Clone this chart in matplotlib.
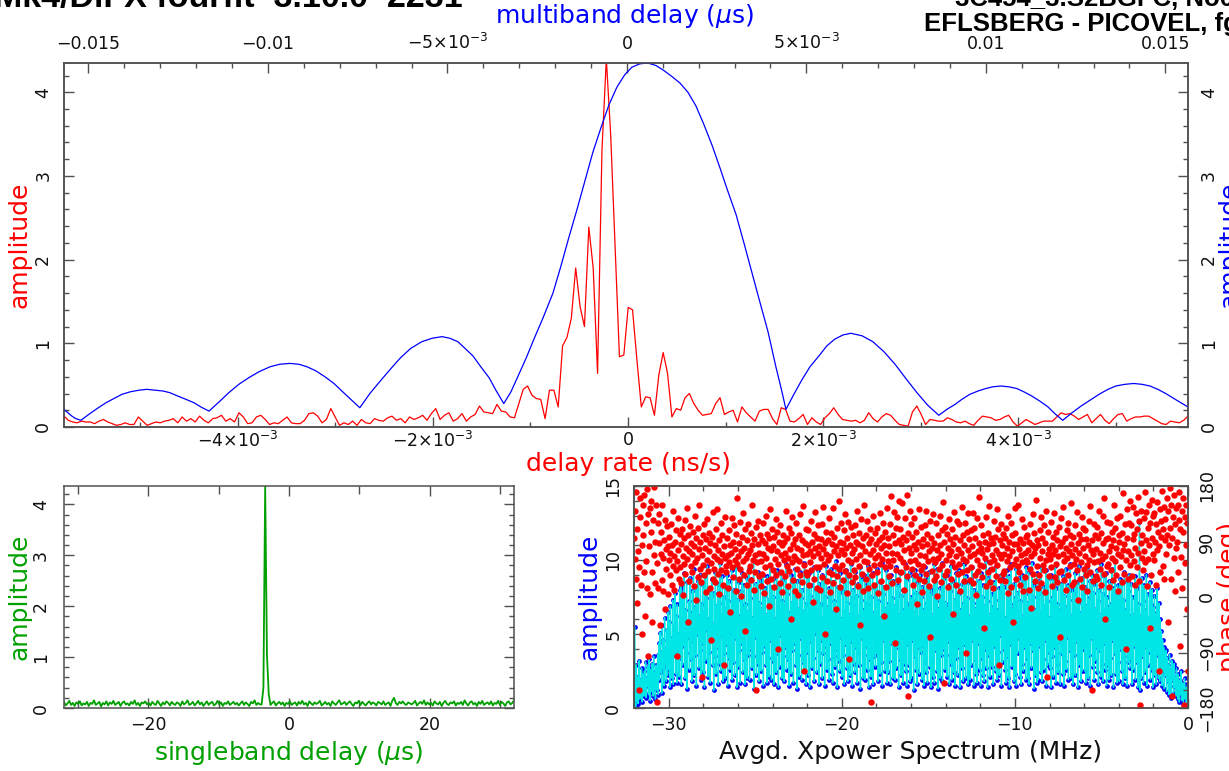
import numpy as np
import matplotlib
matplotlib.use('Agg')
import matplotlib.pyplot as plt
from matplotlib.ticker import MultipleLocator, FixedLocator, FixedFormatter

plt.rcParams['font.family'] = ['DejaVu Sans']
plt.rcParams['mathtext.fontset'] = 'dejavusans'

# delay rate function (red, top panel), ns/s grid
rate_lo, rate_hi = -5.78e-3, 5.74e-3
rate_amp = [
    0.13, 0.08, 0.06, 0.05, 0.07, 0.06, 0.06, 0.04, 0.07, 0.09,
    0.06, 0.04, 0.02, 0.03, 0.05, 0.03, 0.03, 0.12, 0.07, 0.02,
    0.04, 0.06, 0.05, 0.07, 0.08, 0.10, 0.05, 0.12, 0.07, 0.10,
    0.06, 0.13, 0.08, 0.05, 0.10, 0.11, 0.14, 0.07, 0.10, 0.06,
    0.17, 0.12, 0.04, 0.05, 0.12, 0.14, 0.09, 0.03, 0.05, 0.04,
    0.08, 0.12, 0.05, 0.04, 0.04, 0.08, 0.16, 0.17, 0.13, 0.05,
    0.09, 0.22, 0.12, 0.02, 0.05, 0.03, 0.07, 0.02, 0.09, 0.05,
    0.04, 0.10, 0.08, 0.07, 0.11, 0.13, 0.08, 0.10, 0.05, 0.12,
    0.09, 0.11, 0.14, 0.08, 0.16, 0.22, 0.09, 0.14, 0.17, 0.07,
    0.10, 0.16, 0.07, 0.12, 0.15, 0.25, 0.18, 0.17, 0.16, 0.27,
    0.19, 0.18, 0.12, 0.11, 0.28, 0.45, 0.49, 0.38, 0.34, 0.33,
    0.10, 0.44, 0.44, 0.24, 0.97, 1.07, 1.30, 1.90, 1.44, 1.20,
    2.39, 1.90, 0.64, 3.30, 4.40, 3.49, 2.15, 0.84, 0.86, 1.43,
    1.40, 0.80, 0.24, 0.36, 0.35, 0.14, 0.62, 0.89, 0.64, 0.12,
    0.22, 0.20, 0.35, 0.40, 0.28, 0.20, 0.14, 0.15, 0.16, 0.28,
    0.35, 0.15, 0.18, 0.20, 0.06, 0.24, 0.17, 0.12, 0.07, 0.19,
    0.21, 0.21, 0.10, 0.03, 0.23, 0.21, 0.07, 0.06, 0.10, 0.15,
    0.03, 0.11, 0.06, 0.03, 0.11, 0.16, 0.23, 0.15, 0.09, 0.08,
    0.07, 0.08, 0.05, 0.08, 0.17, 0.10, 0.06, 0.12, 0.16, 0.14,
    0.08, 0.03, 0.02, 0.01, 0.18, 0.25, 0.15, 0.03, 0.09, 0.08,
    0.07, 0.07, 0.11, 0.09, 0.06, 0.05, 0.07, 0.04, 0.02, 0.08,
    0.13, 0.12, 0.11, 0.08, 0.09, 0.12, 0.14, 0.06, 0.01, 0.05,
    0.09, 0.06, 0.03, 0.05, 0.07, 0.07, 0.07, 0.12, 0.17, 0.15,
    0.16, 0.13, 0.09, 0.12, 0.15, 0.05, 0.10, 0.15, 0.08, 0.04,
    0.10, 0.15, 0.16, 0.07, 0.10, 0.12, 0.12, 0.13, 0.13, 0.10,
    0.07, 0.04, 0.03, 0.07, 0.06, 0.05, 0.08, 0.13,
]

# multiband delay function (blue, top panel), delay in ns
mbd_ns = [
    -15.68, -15.57, -15.46, -15.35, -15.21,
    -14.99, -14.76, -14.51, -14.29, -14.07, -13.84, -13.59, -13.37,
    -13.15, -12.92, -12.73, -12.51, -12.28, -12.06, -11.87, -11.64,
    -11.36, -11.09, -10.81, -10.53, -10.25, -9.94, -9.67, -9.39,
    -9.14, -8.91, -8.66, -8.41, -8.16, -7.94, -7.69, -7.44,
    -7.16, -6.85, -6.57, -6.30, -6.02, -5.71, -5.43, -5.15,
    -4.93, -4.71, -4.51, -4.29, -4.07, -3.84, -3.65, -3.43,
    -3.23, -3.04, -2.81, -2.59, -2.34, -2.06, -1.84, -1.62, -1.39,
    -1.17, -0.95, -0.72, -0.50, -0.28, -0.06, 0.14, 0.36, 0.58,
    0.81, 1.03, 1.25, 1.48, 1.70, 1.92, 2.14, 2.37, 2.59,
    2.81, 3.04, 3.26, 3.48, 3.70, 3.93, 4.15, 4.32, 4.43,
    4.65, 4.87, 5.10, 5.35, 5.57, 5.79, 6.02, 6.24,
    6.55, 6.85, 7.16, 7.47, 7.77, 8.08, 8.38, 8.69,
    8.91, 9.14, 9.33, 9.55, 9.78, 10.00, 10.19, 10.42,
    10.64, 10.86, 11.06, 11.28, 11.50, 11.73, 11.92, 12.14,
    12.40, 12.65, 12.90, 13.15, 13.40, 13.62, 13.87, 14.12,
    14.35, 14.57, 14.79, 15.01, 15.24, 15.43, 15.63,
]
mbd_amp = [
    0.21, 0.17, 0.13, 0.10, 0.08,
    0.15, 0.22, 0.29, 0.34, 0.39, 0.42, 0.44, 0.45,
    0.44, 0.43, 0.41, 0.37, 0.33, 0.29, 0.24, 0.19,
    0.30, 0.41, 0.51, 0.59, 0.66, 0.72, 0.75, 0.76,
    0.75, 0.72, 0.67, 0.60, 0.52, 0.43, 0.33, 0.23,
    0.40, 0.56, 0.70, 0.83, 0.94, 1.02, 1.06, 1.08,
    1.06, 1.02, 0.94, 0.85, 0.72, 0.59, 0.44, 0.28,
    0.42, 0.60, 0.82, 1.05, 1.30, 1.60, 1.92, 2.26, 2.60,
    2.94, 3.28, 3.58, 3.85, 4.06, 4.21, 4.30, 4.34, 4.35,
    4.32, 4.26, 4.19, 4.11, 4.00, 3.84, 3.62, 3.37, 3.10,
    2.82, 2.54, 2.20, 1.85, 1.50, 1.14, 0.72, 0.42, 0.21,
    0.39, 0.56, 0.72, 0.85, 0.97, 1.05, 1.10, 1.12,
    1.09, 1.02, 0.90, 0.75, 0.58, 0.41, 0.26, 0.14,
    0.21, 0.27, 0.33, 0.39, 0.43, 0.46, 0.48, 0.49,
    0.48, 0.46, 0.42, 0.37, 0.31, 0.24, 0.16, 0.08,
    0.17, 0.25, 0.32, 0.39, 0.45, 0.49, 0.51, 0.52,
    0.51, 0.49, 0.45, 0.40, 0.34, 0.29, 0.24,
]

# singleband delay function (green), -32..32 us
sbd_amp = [
    0.12, 0.05, 0.09, 0.14, 0.06, 0.10, 0.04, 0.11, 0.08, 0.13, 0.05, 0.09, 0.07, 0.12, 0.04, 0.10,
    0.08, 0.15, 0.06, 0.09, 0.12, 0.03, 0.10, 0.07, 0.13, 0.05, 0.11, 0.08, 0.14, 0.06, 0.09, 0.12,
    0.04, 0.10, 0.13, 0.07, 0.09, 0.05, 0.12, 0.08, 0.15, 0.06, 0.10, 0.04, 0.11, 0.09, 0.13, 0.07,
    0.10, 0.05, 0.12, 0.08, 0.06, 0.14, 0.09, 0.04, 0.11, 0.07, 0.13, 0.10, 0.05, 0.12, 0.08, 0.06,
    0.11, 0.09, 0.04, 0.13, 0.07, 0.10, 0.15, 0.06, 0.08, 0.12, 0.05, 0.09, 0.14, 0.07, 0.11, 0.04,
    0.09, 0.13, 0.06, 0.10, 0.12, 0.05, 0.08, 0.14, 0.07, 0.11, 0.04, 0.10, 0.08, 0.13, 0.06, 0.09,
    0.12, 0.07, 0.10, 0.05, 0.09, 0.13, 0.06, 0.11, 0.08, 0.04, 0.12, 0.09, 0.15, 0.06, 0.10, 0.07,
    0.07, 0.40, 4.36, 1.05, 0.28, 0.06, 0.10, 0.13, 0.05, 0.09, 0.12, 0.07, 0.11, 0.04, 0.10, 0.08,
    0.13, 0.06, 0.09, 0.11, 0.05, 0.12, 0.08, 0.14, 0.07, 0.10, 0.04, 0.13, 0.09, 0.06, 0.11, 0.08,
    0.10, 0.14, 0.05, 0.08, 0.12, 0.07, 0.10, 0.04, 0.13, 0.09, 0.06, 0.11, 0.15, 0.07, 0.09, 0.12,
    0.06, 0.10, 0.13, 0.08, 0.04, 0.11, 0.09, 0.14, 0.06, 0.12, 0.08, 0.05, 0.10, 0.13, 0.07, 0.11,
    0.09, 0.05, 0.12, 0.10, 0.07, 0.13, 0.06, 0.09, 0.11, 0.04, 0.14, 0.20, 0.10, 0.06, 0.12, 0.09,
    0.13, 0.08, 0.06, 0.11, 0.09, 0.07, 0.10, 0.14, 0.05, 0.09, 0.12, 0.08, 0.15, 0.06, 0.11, 0.07,
    0.10, 0.05, 0.13, 0.09, 0.07, 0.12, 0.04, 0.10, 0.14, 0.08, 0.06, 0.11, 0.09, 0.13, 0.05, 0.10,
    0.08, 0.12, 0.06, 0.15, 0.09, 0.05, 0.11, 0.13, 0.07, 0.10, 0.04, 0.12, 0.08, 0.14, 0.06, 0.09,
    0.11, 0.07, 0.13, 0.05, 0.10, 0.08, 0.14, 0.06, 0.12, 0.09, 0.04, 0.11, 0.13, 0.07, 0.10, 0.15,
]

# averaged cross power spectrum, -32..0 MHz
xp_amp = [
    0.2, 5.5, 1.6, 0.1, 2.9, 0.5, 2.1, 0.3, 1.4, 3.2, 0.6, 1.9, 0.9, 2.7, 0.4, 2.3, 1.2, 0.8, 2.5, 1.0,
    3.1, 0.7, 2.0, 1.5, 2.8, 0.9, 3.3, 1.7, 0.5, 2.6, 1.1, 3.0, 2.2, 0.8, 3.5, 1.3, 2.4, 0.6, 2.9, 1.8,
    1.2, 3.6, 0.9, 4.4, 1.9, 5.1, 2.4, 3.8, 1.0, 5.6, 2.7, 4.6, 1.5, 6.1, 3.0, 4.0, 1.8, 5.3, 2.2, 6.5,
    2.6, 5.8, 1.4, 6.9, 3.2, 4.7, 2.0, 7.3, 1.6, 5.5, 3.6, 7.8, 2.3, 6.2, 1.7, 7.0, 3.9, 5.0, 2.1, 8.0,
    3.4, 8.2, 1.6, 6.1, 2.9, 7.7, 4.2, 9.1, 2.0, 6.6, 3.7, 8.5, 1.3, 5.9, 4.8, 7.2, 2.6, 8.8, 3.3, 6.4,
    1.8, 7.9, 4.5, 9.4, 2.2, 6.8, 3.6, 8.1, 1.5, 7.3, 5.0, 8.6, 2.7, 6.2, 3.9, 9.0, 1.9, 7.0, 4.4, 8.3,
    2.4, 6.5, 1.4, 8.9, 3.2, 7.4, 5.3, 9.6, 2.1, 6.0, 3.8, 8.0, 1.7, 7.6, 4.6, 8.7, 2.9, 5.7, 1.2, 7.8,
    3.5, 9.2, 2.3, 6.9, 4.1, 8.4, 1.6, 7.1, 3.0, 9.8, 2.5, 6.3, 4.9, 8.9, 1.8, 7.5, 3.7, 8.2, 2.0, 6.7,
    4.3, 9.0, 1.5, 7.2, 3.4, 8.6, 2.6, 6.4, 5.1, 9.3, 1.9, 7.7, 3.1, 8.0, 2.2, 6.6, 4.7, 9.5, 1.4, 7.3,
    2.8, 8.5, 3.9, 6.2, 1.7, 7.9, 4.4, 9.1, 2.4, 6.8, 3.3, 8.3, 1.6, 7.0, 5.2, 8.8, 2.0, 6.5, 3.6, 9.4,
    1.9, 7.4, 4.0, 8.7, 2.7, 6.1, 3.5, 9.9, 1.3, 7.8, 4.8, 8.4, 2.2, 6.9, 3.0, 9.2, 1.8, 7.1, 4.5, 8.6,
    2.5, 6.7, 3.8, 9.0, 1.5, 7.6, 4.2, 8.1, 2.9, 6.3, 1.7, 8.9, 3.4, 7.3, 2.1, 9.6, 4.6, 6.8, 1.9, 8.2,
    3.2, 7.5, 1.6, 8.8, 4.3, 6.0, 2.4, 9.3, 3.7, 7.9, 1.4, 8.4, 2.8, 6.6, 4.9, 9.1, 2.0, 7.2, 3.5, 8.7,
    1.8, 6.9, 4.1, 9.7, 2.6, 7.7, 3.3, 8.2, 1.5, 6.4, 5.0, 9.0, 2.3, 7.1, 3.9, 8.5, 1.7, 6.2, 4.4, 9.4,
    2.9, 7.8, 1.3, 8.6, 3.6, 6.7, 2.1, 9.2, 4.7, 7.4, 1.9, 8.0, 3.1, 6.5, 2.5, 9.8, 4.0, 7.0, 1.6, 8.9,
    3.8, 6.3, 2.2, 9.1, 1.4, 7.6, 4.5, 8.3, 2.7, 6.9, 3.4, 9.5, 1.8, 7.3, 5.1, 8.0, 2.4, 6.6, 3.9, 9.3,
    1.6, 8.4, 3.0, 7.0, 4.6, 9.0, 2.0, 6.1, 3.7, 8.8, 1.5, 7.5, 4.2, 9.6, 2.6, 6.8, 3.3, 8.1, 1.9, 7.7,
    4.4, 9.4, 2.3, 6.4, 1.7, 8.5, 3.5, 7.2, 2.8, 9.9, 4.0, 6.7, 1.4, 8.2, 3.2, 7.8, 2.5, 9.1, 4.8, 6.0,
    2.1, 7.9, 3.6, 8.6, 1.6, 6.5, 4.3, 9.3, 2.7, 7.1, 1.8, 8.9, 3.4, 6.3, 2.2, 9.7, 4.5, 7.4, 1.5, 8.0,
    3.0, 6.9, 2.4, 9.2, 4.1, 7.6, 1.7, 8.4, 3.8, 6.2, 2.9, 9.5, 1.3, 7.3, 4.7, 8.7, 2.0, 6.6, 3.6, 9.0,
    1.9, 8.3, 4.2, 7.0, 2.6, 9.6, 1.4, 6.8, 3.3, 8.9, 2.1, 7.5, 4.9, 9.1, 1.6, 6.4, 3.5, 8.1, 2.8, 7.9,
    3.7, 9.4, 1.8, 7.2, 4.0, 8.5, 2.3, 6.1, 3.1, 9.8, 1.5, 7.7, 4.6, 8.2, 2.5, 6.7, 3.9, 9.3, 1.7, 7.0,
    2.4, 8.8, 3.2, 6.5, 1.6, 9.0, 4.4, 7.4, 2.0, 8.6, 3.6, 6.9, 1.9, 9.5, 2.7, 7.8, 4.1, 8.3, 1.4, 6.3,
    3.3, 9.1, 2.2, 7.6, 4.8, 8.0, 1.7, 6.6, 3.0, 9.7, 2.5, 7.1, 1.5, 8.7, 4.3, 6.8, 2.9, 9.2, 1.8, 7.5,
    2.0, 7.3, 4.6, 8.9, 1.2, 6.4, 3.5, 9.3, 2.6, 7.8, 1.6, 8.5, 4.1, 6.1, 2.3, 9.0, 3.8, 7.5, 1.9, 8.2,
    4.2, 6.6, 1.5, 9.5, 3.1, 7.0, 2.4, 8.7, 1.7, 6.9, 4.7, 9.2, 2.8, 7.7, 1.4, 8.0, 3.3, 6.3, 2.1, 9.7,
    1.7, 8.6, 3.9, 7.2, 2.5, 9.4, 1.3, 6.7, 4.4, 8.1, 2.0, 7.6, 3.6, 9.8, 1.8, 6.5, 4.0, 8.8, 2.6, 7.1,
    3.6, 9.0, 2.1, 6.8, 4.5, 8.3, 1.6, 7.9, 3.0, 9.6, 1.9, 6.2, 4.8, 8.6, 2.4, 7.3, 1.5, 9.1, 3.4, 6.9,
    2.2, 7.7, 4.1, 9.3, 1.4, 6.6, 3.2, 8.4, 2.7, 7.0, 1.8, 9.7, 4.3, 6.4, 2.0, 8.9, 3.7, 7.4, 1.6, 8.5,
    3.9, 6.2, 1.9, 8.7, 2.9, 9.5, 4.6, 7.1, 1.5, 8.0, 3.3, 6.7, 2.3, 9.2, 1.7, 7.8, 4.4, 8.6, 2.6, 6.5,
    1.5, 9.1, 3.4, 7.5, 2.2, 8.3, 1.8, 6.9, 4.0, 9.9, 2.7, 7.2, 1.4, 8.8, 3.6, 6.3, 2.1, 9.4, 4.5, 7.7,
    2.8, 6.8, 1.6, 8.5, 4.2, 7.3, 2.5, 9.6, 1.9, 6.6, 3.8, 8.1, 2.2, 7.9, 4.9, 9.0, 1.5, 6.4, 3.1, 8.7,
    4.0, 8.2, 2.6, 6.1, 1.7, 9.3, 3.5, 7.6, 2.0, 8.9, 1.4, 7.0, 4.3, 9.7, 2.8, 6.7, 3.2, 8.4, 1.8, 7.4,
    2.3, 9.4, 1.5, 7.8, 3.7, 6.5, 4.7, 8.8, 2.1, 7.2, 1.6, 9.0, 3.0, 6.2, 2.5, 8.6, 4.1, 7.7, 1.9, 9.5,
    3.4, 7.1, 2.0, 9.2, 1.6, 8.0, 4.4, 6.8, 2.7, 9.8, 3.9, 7.5, 1.3, 8.3, 2.2, 6.6, 3.6, 9.1, 1.7, 7.9,
    1.9, 8.6, 4.2, 6.4, 2.4, 9.5, 1.8, 7.7, 3.3, 8.2, 2.6, 6.9, 4.6, 9.3, 1.5, 7.2, 2.9, 8.8, 3.8, 6.1,
    2.7, 9.0, 1.4, 7.4, 3.5, 8.7, 2.1, 6.3, 4.1, 9.6, 1.7, 8.1, 3.0, 7.0, 2.4, 9.2, 4.5, 6.6, 1.6, 8.4,
    3.7, 6.5, 2.3, 8.9, 1.5, 7.6, 3.2, 9.4, 2.6, 6.8, 4.8, 8.3, 1.9, 7.3, 3.9, 9.7, 2.0, 6.2, 4.3, 8.0,
    1.6, 7.8, 3.6, 9.1, 2.2, 6.7, 4.5, 8.5, 1.4, 7.1, 2.9, 9.6, 3.3, 6.4, 1.8, 8.8, 2.5, 7.6, 4.0, 9.3,
    2.5, 8.2, 1.7, 6.9, 4.3, 9.5, 2.0, 7.4, 3.6, 8.6, 1.5, 6.5, 4.7, 9.0, 2.8, 7.8, 1.9, 8.4, 3.2, 6.7,
    4.1, 9.3, 2.4, 7.2, 1.6, 8.0, 3.9, 6.3, 2.1, 9.7, 3.0, 7.7, 1.8, 8.9, 4.4, 6.6, 2.6, 9.1, 1.5, 7.5,
    2.9, 6.8, 1.9, 8.6, 3.4, 7.0, 2.2, 9.4, 4.6, 8.1, 1.4, 6.4, 3.7, 9.9, 2.3, 7.6, 1.7, 8.3, 3.1, 8.1,
    1.8, 8.7, 4.0, 6.9, 2.5, 8.6, 1.6, 7.3, 3.5, 9.2, 2.0, 6.6, 4.2, 8.5, 1.5, 7.9, 3.1, 9.0, 2.7, 6.2,
    3.3, 8.4, 1.6, 7.5, 2.6, 6.3, 4.2, 8.9, 1.9, 6.7, 3.1, 8.1, 1.4, 7.0, 2.3, 12.6, 1.2, 6.2, 2.0, 8.8,
    3.5, 7.2, 1.7, 8.3, 2.4, 6.6, 4.1, 9.0, 1.5, 7.7, 2.9, 6.1, 3.8, 8.5, 1.9, 7.0, 2.6, 8.0, 1.4, 6.8,
    3.0, 7.6, 2.2, 6.4, 1.6, 8.1, 3.6, 5.9, 2.0, 7.1, 1.8, 6.0, 2.8, 5.2, 1.5, 4.6, 2.5, 4.1, 1.3, 3.8,
    2.2, 3.9, 1.1, 3.4, 1.8, 2.9, 0.9, 3.6, 1.5, 2.6, 0.7, 3.2, 1.9, 2.4, 1.0, 3.0, 1.4, 2.1, 0.8, 2.7,
    1.6, 0.6, 2.3, 1.2, 0.4, 1.9, 0.9, 2.5, 0.5, 1.3, 1.7, 0.3, 1.1, 2.0, 0.6, 1.4, 0.2, 0.9, 1.6, 0.4,
]
xp_phase = [
    95, 140, 62, 170, 30, -10, 110, 75, -150, 48, 130, 160, 20, 85, -60, 150, 100, 40, 165, -30,
    120, 58, 175, 15, 135, -95, 82, 145, 5, 105, 155, 40, -40, 125, 68, 178, 22, 90, 150, -170,
    55, 120, 15, 88, 135, -45, 70, 105, 28, 150, 64, 10, 92, 125, -20, 78, 45, 115, 5, 82,
    60, 98, 35, 72, 118, 20, 84, 50, 140, 66, 12, 90, 44, 108, -95, 58, 76, 128, 30, 102,
    48, 86, 22, 110, 67, 3, 95, 54, 125, 38, 80, 145, 62, -40, 100, 26, 74, 115, 50, 88,
    70, 40, 105, 18, 83, 132, 57, 96, -5, 64, 112, 33, 78, 150, 46, 90, 24, 68, -130, 100,
    52, 118, 36, 80, 8, 94, 60, 126, 42, 74, 104, 15, 88, 55, -70, 98, 30, 138, 66, 45,
    85, 25, 110, 62, 142, 38, 76, 5, 92, 58, 120, 44, 70, 100, 20, 82, -110, 64, 130, 50,
    40, 96, 68, 14, 108, 56, 84, -25, 72, 128, 48, 90, 32, 116, 60, 78, 10, 102, 54, 160,
    66, 30, 88, 122, 46, 74, 2, 98, 58, 136, 36, 80, 110, -55, 64, 92, 20, 70, 118, 42,
    76, 50, 104, 28, 84, 150, 60, 12, 94, 68, 40, 114, -150, 56, 86, 124, 34, 72, 100, 18,
    58, 92, 38, 120, 70, 6, 88, 48, 132, 64, 26, 102, 80, -15, 96, 52, 142, 30, 76, 110,
    44, 82, 16, 98, 62, 126, 36, 74, 106, -85, 54, 90, 22, 116, 68, 40, 84, 8, 100, 60,
    90, 34, 72, 140, 50, 96, 18, 64, 112, 42, 78, -35, 104, 56, 130, 28, 86, 66, 10, 94,
    62, 120, 46, 80, 4, 100, 58, 134, 36, 76, 92, 24, 68, 148, 52, -120, 88, 40, 110, 70,
    36, 84, 108, 20, 74, 56, 124, 44, 90, -8, 66, 102, 30, 80, 138, 48, 96, 14, 72, 116,
    82, 48, 12, 94, 64, 118, 32, 78, 146, 54, 88, -60, 70, 106, 26, 60, 92, 40, 128, 8,
    66, 104, 38, 86, 144, 22, 74, 98, 50, -20, 82, 112, 34, 68, 156, 46, 90, 16, 76, 120,
    52, 88, 28, 108, 70, 134, 42, 80, 6, 96, 60, 122, 36, -100, 84, 56, 114, 24, 72, 100,
    44, 78, 116, 32, 90, 62, 140, 18, 86, 50, 104, -45, 68, 126, 38, 82, 10, 96, 58, 150,
    74, 30, 100, 56, 124, 14, 88, 46, 110, 70, -170, 94, 36, 76, 132, 52, 20, 104, 64, 86,
    40, 112, 68, 6, 92, 54, 136, 80, 26, 98, 62, 120, -30, 84, 48, 106, 16, 72, 144, 58,
    96, 34, 82, 118, 50, 164, 72, 22, 100, 60, 138, -75, 88, 44, 112, 70, 130, 28, 92, 156,
    64, 110, 40, 86, 152, 56, 98, 12, 76, 128, 48, 92, 166, 34, 104, -160, 80, 140, 58, 118,
    72, 46, 98, 20, 84, 128, 60, 36, 106, 78, -12, 90, 54, 142, 30, 68, 114, 44, 82, 8,
    50, 94, 26, 116, 66, 140, 38, 86, 102, 58, 18, 74, 124, -65, 96, 42, 80, 134, 62, 28,
    88, 56, 120, 34, 76, 2, 100, 64, 46, 132, 84, 24, 70, 108, 52, 154, -140, 90, 36, 114,
    60, 102, 42, 80, 16, 126, 68, 94, 30, 74, 110, 56, -28, 86, 138, 48, 98, 20, 66, 124,
    38, 78, 118, 54, 92, 10, 72, 146, 40, 100, 62, 84, 26, 120, 58, -90, 106, 44, 76, 136,
    94, 28, 66, 108, 48, 82, 136, 22, 70, 112, 36, 96, 4, 60, 128, 74, 42, 88, 162, 52,
    80, 116, 32, 72, 100, 50, -50, 90, 64, 130, 18, 78, 104, 40, 86, 148, 56, 24, 96, 68,
    46, 88, 14, 124, 60, 98, 34, 76, 142, 52, 110, 70, -110, 92, 28, 64, 118, 84, 38, 102,
    70, 42, 96, 26, 112, 58, 80, 6, 132, 66, 90, 48, 120, 16, 74, 100, -40, 54, 86, 144,
    104, 62, 30, 86, 50, 150, 78, 40, 94, 20, 68, 126, 56, 88, 10, 114, 72, 32, 98, 60,
    56, 100, 76, 12, 90, 46, 118, 66, -18, 84, 134, 38, 72, 104, 26, 80, 158, 50, 92, 14,
    84, 36, 108, 64, 130, 22, 74, 96, 52, 116, 44, 8, 88, 60, 140, -130, 70, 106, 34, 78,
    62, 122, 48, 84, 18, 98, 70, 136, 32, 76, 106, 54, 92, 24, 66, 114, 40, -65, 82, 128,
    42, 90, 70, 146, 58, 28, 96, 80, 12, 108, 64, 120, 36, 74, 100, 50, 152, 86, 20, 68,
    98, 54, 24, 78, 116, 62, 138, 44, 88, -5, 72, 102, 30, 94, 56, 130, 16, 80, 112, 46,
    66, 108, 36, 94, 52, 10, 84, 124, 60, 148, 40, 76, -150, 92, 26, 70, 118, 56, 100, 34,
    78, 30, 114, 58, 96, 140, 46, 72, 20, 104, 62, 132, 88, 38, 160, 66, -35, 94, 50, 122,
    54, 96, 74, 16, 120, 82, 44, 106, 64, 28, 92, 150, 58, 112, 36, 80, 128, 10, 70, 100,
    90, 48, 132, 66, 24, 104, 76, 168, 38, 86, 118, -85, 60, 142, 96, 30, 74, 120, 52, 156,
    68, 116, 34, 94, 146, 58, 102, 20, 80, 136, 48, 110, 162, 72, 26, 124, -175, 88, 140, 64,
    100, 44, 128, 74, 170, 56, 92, 138, 18, 112, 62, 150, 84, -50, 120, 36, 96, 158, 70, 132,
    60, 136, 90, 20, 118, 154, 76, 106, -120, 82, 142, 40, 124, 98, 172, 50, 110, 146, 30, 92,
    126, 70, 160, 100, -40, 140, 84, 176, 112, 30, 150, 96, -160, 130, 64, 165, 118, 10, 145, 80,
    90, 150, 40, 125, 170, -80, 110, 65, 140, 15, 160, 105, -175, 130, 55, 150, 85, -20, 120, -120,
]

rate_ticks = [-4e-3, -2e-3, 0, 2e-3, 4e-3]
rate_labels = [r'$-4{\times}10^{-3}$', r'$-2{\times}10^{-3}$', '0',
               r'$2{\times}10^{-3}$', r'$4{\times}10^{-3}$']
mbd_ticks = [-0.015, -0.01, -0.005, 0, 0.005, 0.01, 0.015]
mbd_labels = ['\u22120.015', '\u22120.01', r'$-5{\times}10^{-3}$', '0',
              r'$5{\times}10^{-3}$', '0.01', '0.015']

W, H = 1229, 771
frame = '#505050'
TICK = 12.5
LAB = 18


def style(ax):
    for s in ax.spines.values():
        s.set_color(frame)
        s.set_linewidth(1.1)
    ax.tick_params(which='both', direction='in', color=frame, labelcolor='#111111',
                   labelsize=TICK, width=1.0)
    ax.tick_params(which='major', length=7)
    ax.tick_params(which='minor', length=3.5)


def rotate_ylabels(ax):
    for t in ax.yaxis.get_majorticklabels():
        t.set_rotation(90)
        t.set_va('center')


def minus_fmt(v, pos):
    return f'{v:.0f}'.replace('-', '\u2212')


fig = plt.figure(figsize=(W / 100, H / 100), dpi=100)

# ---------------- top panel: delay rate + multiband delay ----------------
ax = fig.add_axes([64 / W, 1 - 427 / H, 1124 / W, 364 / H])
ax_mbd = ax.twiny()

rate_x = np.linspace(rate_lo, rate_hi, len(rate_amp))
ax.plot(rate_x, rate_amp, color='red', lw=0.9)
ax_mbd.plot(np.array(mbd_ns) * 1e-3, mbd_amp, color='blue', lw=0.9)

ax.set_xlim(rate_lo, rate_hi)
ax_mbd.set_xlim(-0.01568, 0.01563)
ax.set_ylim(0, 4.35)

for a in (ax, ax_mbd):
    style(a)
ax.xaxis.set_major_locator(FixedLocator(rate_ticks))
ax.xaxis.set_major_formatter(FixedFormatter(rate_labels))
ax.xaxis.set_minor_locator(MultipleLocator(1e-3))
ax_mbd.xaxis.set_major_locator(FixedLocator(mbd_ticks))
ax_mbd.xaxis.set_major_formatter(FixedFormatter(mbd_labels))
ax_mbd.xaxis.set_minor_locator(MultipleLocator(1e-3))
ax.yaxis.set_major_locator(MultipleLocator(1))
ax.yaxis.set_minor_locator(MultipleLocator(0.2))
ax.tick_params(axis='x', which='both', bottom=True, top=False, pad=3)
ax_mbd.tick_params(axis='x', which='both', top=True, bottom=False, pad=7)
ax.tick_params(axis='y', which='both', left=True, right=True, labelright=True)
ax.tick_params(axis='y', which='major', pad=8.5)
rotate_ylabels(ax)

ax.set_xlabel('delay rate (ns/s)', color='red', fontsize=LAB, va='center')
ax.xaxis.set_label_coords(0.502, -0.101)
ax_mbd.set_xlabel(r'multiband delay ($\mu$s)', color='blue', fontsize=LAB, va='center')
ax_mbd.xaxis.set_label_coords(0.499, 1.129)
ax.set_ylabel('amplitude', color='red', fontsize=LAB, va='center', ha='center')
ax.yaxis.set_label_coords(-0.040, 0.5)
ax.text(1.0365, 0.5, 'amplitude', color='blue', fontsize=LAB, rotation=90,
        va='center', ha='center', transform=ax.transAxes, clip_on=False)

# ---------------- singleband delay ----------------
ax_s = fig.add_axes([64 / W, 1 - 708 / H, 450 / W, 222 / H])
sbd_x = np.linspace(-32, 32, len(sbd_amp))
ax_s.plot(sbd_x, sbd_amp, color='#00a000', lw=1.3)
ax_s.set_xlim(-32, 32)
ax_s.set_ylim(0, 4.36)
style(ax_s)
ax_s.xaxis.set_major_locator(MultipleLocator(20))
ax_s.xaxis.set_minor_locator(MultipleLocator(10))
ax_s.yaxis.set_major_locator(MultipleLocator(1))
ax_s.yaxis.set_minor_locator(MultipleLocator(0.2))
ax_s.tick_params(which='both', top=True, right=True)
ax_s.tick_params(axis='x', which='minor', length=6)
ax_s.tick_params(axis='x', pad=6)
ax_s.tick_params(axis='y', pad=10)
ax_s.xaxis.set_major_formatter(plt.FuncFormatter(minus_fmt))
rotate_ylabels(ax_s)
ax_s.set_xlabel(r'singleband delay ($\mu$s)', color='#00a000', fontsize=LAB, va='center')
ax_s.xaxis.set_label_coords(0.5, -0.203)
ax_s.set_ylabel('amplitude', color='#00a000', fontsize=LAB, va='center', ha='center')
ax_s.yaxis.set_label_coords(-0.098, 0.5)

# ---------------- cross power spectrum ----------------
ax_x = fig.add_axes([634 / W, 1 - 708 / H, 554 / W, 222 / H])
ax_p = ax_x.twinx()
freq = np.linspace(-32, 0, len(xp_amp))
ax_x.plot(freq, xp_amp, 'o', color='#0000ff', ms=3.4, mew=0, zorder=1)
ax_x.plot(freq, xp_amp, '-', color='#00e5e5', lw=1.0, zorder=2)
ax_p.plot(freq, xp_phase, 'o', color='#ff0000', ms=4.6, mew=0)
ax_x.set_xlim(-32, 0)
ax_x.set_ylim(0, 15)
ax_p.set_ylim(-180, 180)
for a in (ax_x, ax_p):
    style(a)
ax_x.xaxis.set_major_locator(MultipleLocator(10))
ax_x.xaxis.set_minor_locator(MultipleLocator(2))
ax_x.yaxis.set_major_locator(MultipleLocator(5))
ax_x.yaxis.set_minor_locator(MultipleLocator(1))
ax_p.yaxis.set_major_locator(MultipleLocator(90))
ax_p.yaxis.set_minor_locator(MultipleLocator(30))
ax_x.tick_params(axis='x', which='both', top=True, pad=6)
ax_x.tick_params(axis='y', pad=8.5)
ax_p.tick_params(axis='y', pad=7)
ax_x.xaxis.set_major_formatter(plt.FuncFormatter(minus_fmt))
rotate_ylabels(ax_x)
rotate_ylabels(ax_p)
ax_x.set_xlabel('Avgd. Xpower Spectrum (MHz)', color='#111111', fontsize=LAB, va='center')
ax_x.xaxis.set_label_coords(0.5, -0.198)
ax_x.set_ylabel('amplitude', color='blue', fontsize=LAB, va='center', ha='center')
ax_x.yaxis.set_label_coords(-0.081, 0.5)
ax_p.set_ylabel('phase (deg)', color='red', fontsize=LAB, va='center', ha='center')
ax_p.yaxis.set_label_coords(1.074, 0.5)

# ---------------- header text (clipped at the top of the page) ----------------
hdr = dict(fontweight='bold', family=['Liberation Sans', 'DejaVu Sans'],
           va='baseline', color='black')
fig.text(-6 / W, 1 - 7 / H, 'Mk4/DiFX fourfit  3.10.0  2231', ha='left', fontsize=24.5, **hdr)
fig.text(955 / W, 1 - 6 / H, '3C454_3.S2BGFC, No0001', ha='left', fontsize=18.5, **hdr)
fig.text(924 / W, 1 - 31 / H, 'EFLSBERG - PICOVEL, fgroup X, pol LL', ha='left',
         fontsize=18.5, **hdr)

fig.savefig('out.png', dpi=100)
